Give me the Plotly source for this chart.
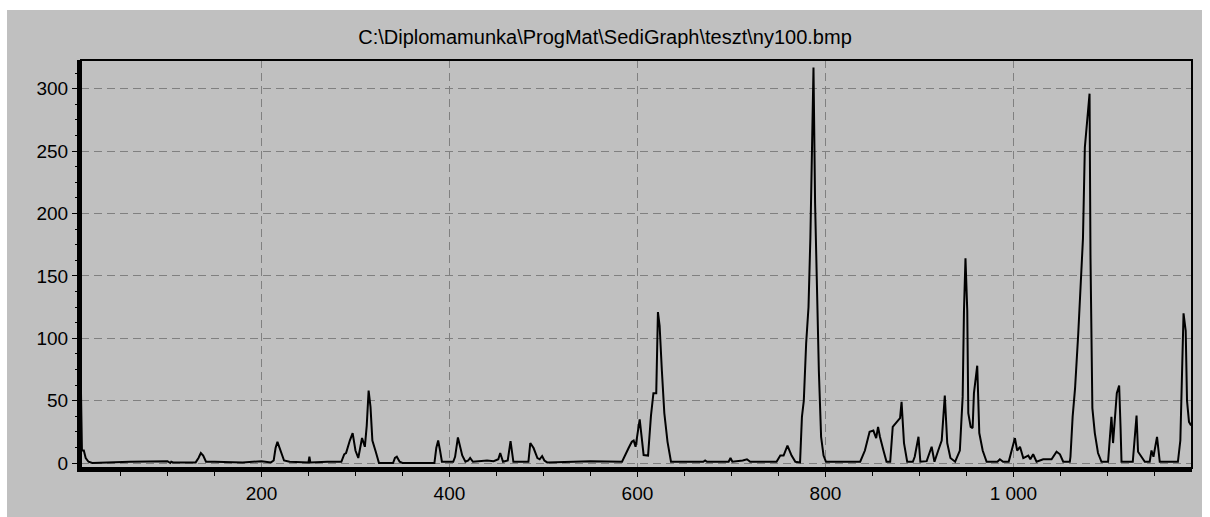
import plotly.graph_objects as go

TITLE = r"C:\Diplomamunka\ProgMat\SediGraph\teszt\ny100.bmp"

# --- data (x position, intensity) ---
x_part1 = [8, 9, 11, 13, 16, 20, 60, 100, 103, 104, 106, 130, 133, 135.5, 138, 141, 150, 180, 200,
           210, 213, 215, 217, 220, 224, 230, 250, 251, 252, 270, 285, 288, 290, 294, 297, 300, 303,
           307, 310, 312, 313, 314, 316, 318, 321.6, 325, 340, 342, 344, 347, 350]
y_part1 = [56, 10, 10, 4, 1, 0, 1, 1.5, 0, 1, 0.5, 0.5, 4, 8, 6, 1, 1, 0.5, 1.5,
           0.5, 2, 12, 17, 10, 2, 1, 0.5, 5, 0.5, 1, 1, 7, 8, 18, 24, 10, 4,
           20, 13, 30, 50, 58, 45, 18, 9, 0, 0, 4, 5, 1, 0]

x_part2 = [384, 386, 388, 390, 392, 404, 406, 409, 413.6, 417, 420, 422, 425, 440, 447, 452, 454,
           457, 462, 465, 468, 484, 486, 489.5, 493.6, 496, 498.6, 501, 504, 550, 583.6, 590.6,
           594, 596, 598, 602.4, 606.6, 611.3, 614.4, 617, 620, 621.8, 623.6, 626, 628.6, 632,
           635.7, 670, 672, 674, 697, 699, 701, 712, 716.5, 720]
y_part2 = [0, 12, 18, 10, 1, 1, 5, 20.5, 6, 1, 2, 4, 1, 2, 1.5, 3, 8,
           1, 2, 17.6, 1, 1, 16, 12, 4, 3, 5.6, 2, 0.5, 1.5, 1, 12,
           17, 18, 13, 35, 6.4, 6, 38, 56, 56, 121, 110, 74, 40, 17,
           1, 1, 2, 1, 1, 4, 1, 2, 3, 1]

x_part3 = [748, 752, 755.5, 759.6, 764, 768, 773, 775, 777, 779.5, 782, 784, 785.6, 787.3, 789,
           791.5, 793, 795.4, 798, 800.6, 837, 842, 847, 851, 854, 856, 858, 861.6, 865, 868.9,
           871.6, 876, 879.4, 881, 883.6, 887, 893, 895, 899, 901, 907.7, 913, 916, 920, 923.7,
           927, 929.6, 933, 938, 943, 946, 947.4, 949, 950.9, 952, 954.5, 956.6, 958, 961.5,
           963.7, 967.3, 971.5]
y_part3 = [1, 6, 6, 14, 6, 1, 0.5, 37, 50, 96, 125, 181, 267, 317, 208,
           112, 74, 21, 6, 1, 1, 10, 25, 26, 20, 29, 21, 10.4, 1, 1,
           29, 33, 36, 49, 16, 1, 1, 5, 21, 1, 1.5, 13, 1, 10, 18,
           54, 16, 4, 1, 10, 53, 122, 164, 122, 40, 29, 28, 56, 78,
           24, 10, 1]

x_part4 = [983, 985.6, 989, 995, 998, 1001.6, 1004, 1007, 1010.5, 1013, 1015.8, 1018, 1021, 1024.6,
           1031.7, 1040.6, 1045.9, 1049.5, 1053, 1060, 1060.7, 1063, 1065.6, 1069, 1072.5, 1074,
           1076, 1081, 1082, 1084, 1086.6, 1090, 1093.7, 1100.7, 1104.3, 1106, 1110, 1112.5, 1114,
           1115, 1127, 1131, 1132.6, 1136, 1139.8, 1145, 1146.9, 1149, 1152.8, 1155.7, 1175,
           1177.6, 1179.8, 1181, 1183.3, 1184.7, 1186.8, 1189]
y_part4 = [1, 3, 1, 1, 10, 20, 10, 13, 4, 5, 6, 3, 7, 1,
           3, 3, 9, 7, 1, 1, 5, 37, 60, 104, 157, 180,
           253, 296, 165, 44, 24, 8, 1, 1, 37, 16, 56, 62, 28,
           1, 1, 38, 9, 5, 1, 1, 10, 5, 21, 1, 1,
           18, 74, 120, 106, 50, 33, 30]

x_values = x_part1 + x_part2 + x_part3 + x_part4
intensity = y_part1 + y_part2 + y_part3 + y_part4

x_tick_values = [200, 400, 600, 800, 1000]
x_tick_labels = ["200", "400", "600", "800", "1 000"]
y_tick_values = [0, 50, 100, 150, 200, 250, 300]

# --- layout geometry ---
W, H = 1210, 517
ML, MR, MT, MB = 81, 18, 60, 49
PW, PH = W - ML - MR, H - MT - MB
PANEL = (7, 10, 1202, 517)  # gray panel in pixels (left, top, right, bottom)

def px_to_paper_x(px):
    return (px - ML) / PW

def px_to_paper_y(py):
    return (H - MB - py) / PH

GRAY = "#c0c0c0"
GRID = "#808080"
FONT = "Liberation Sans, Arial, sans-serif"

fig = go.Figure()
fig.add_trace(go.Scatter(x=x_values, y=intensity, mode="lines",
                         line=dict(color="black", width=2), showlegend=False,
                         hoverinfo="skip"))

fig.update_layout(
    width=W, height=H,
    margin=dict(l=ML, r=MR, t=MT, b=MB, pad=0),
    paper_bgcolor="white", plot_bgcolor=GRAY,
    font=dict(family=FONT, size=19, color="black"),
    title=dict(text=TITLE, x=0.5, xref="container", xanchor="center",
               y=1 - 37 / H, yref="container", yanchor="middle",
               font=dict(family=FONT, size=20, color="black")),
    shapes=[
        dict(type="rect", xref="paper", yref="paper", layer="below",
             x0=px_to_paper_x(PANEL[0]), x1=px_to_paper_x(PANEL[2]),
             y0=px_to_paper_y(PANEL[3]), y1=px_to_paper_y(PANEL[1]),
             fillcolor=GRAY, line=dict(width=0)),
        dict(type="rect", xref="paper", yref="paper", layer="above",
             x0=0, x1=1, y0=0, y1=1, line=dict(color="black", width=2)),
    ],
)

fig.update_xaxes(
    range=[8, 1190], showgrid=True, gridcolor=GRID, gridwidth=1, griddash="8px,5px",
    tickmode="array", tickvals=x_tick_values, ticktext=x_tick_labels,
    ticks="outside", ticklen=5, tickwidth=1, tickcolor="black",
    minor=dict(dtick=50, tick0=0, ticks="outside", ticklen=4, tickcolor="black", showgrid=False),
    showline=True, linecolor="black", linewidth=4, zeroline=False,
    tickfont=dict(family=FONT, size=19, color="black"),
)
fig.update_yaxes(
    range=[-4, 323], showgrid=True, gridcolor=GRID, gridwidth=1, griddash="8px,5px",
    tickmode="array", tickvals=y_tick_values,
    ticks="outside", ticklen=5, tickwidth=1, tickcolor="black",
    minor=dict(dtick=12.5, tick0=0, ticks="outside", ticklen=2, tickcolor="black", showgrid=False),
    showline=True, linecolor="black", linewidth=4, zeroline=False,
    tickfont=dict(family=FONT, size=19, color="black"),
)

fig.write_html("out.html")
